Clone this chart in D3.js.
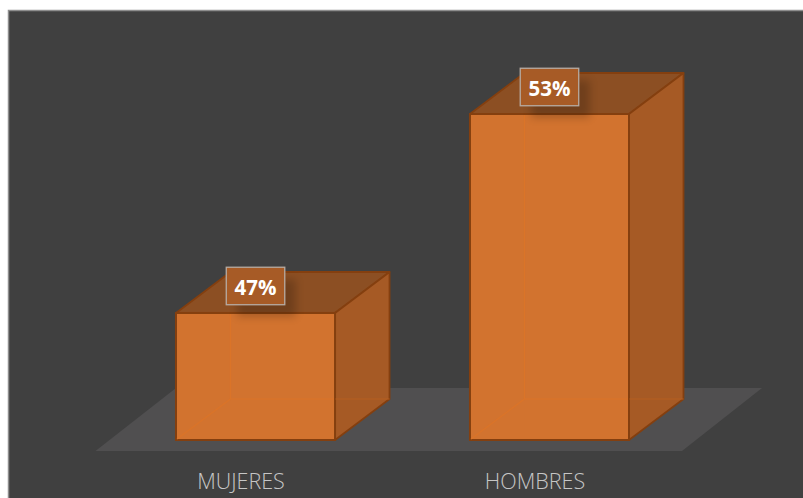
<!DOCTYPE html>
<html>
<head>
<meta charset="utf-8">
<script src="https://cdn.jsdelivr.net/npm/d3@7/dist/d3.min.js"></script>
<style>
html,body{margin:0;padding:0;background:#fff;}
svg{display:block;}
text{font-family:"Open Sans",sans-serif;}
</style>
</head>
<body>
<svg id="chart" width="803" height="498"></svg>
<script>
// Share of respondents by sex, drawn as 3D columns on a floor
const categories = ["MUJERES", "HOMBRES"];
const shares = [47, 53];
const labels = ["47%", "53%"];

const W = 803, H = 498;
const depthX = 54.5, depthY = 41;
const svg = d3.select("#chart");

const x = d3.scaleBand().domain(categories).range([176, 629]).paddingInner(0.459).paddingOuter(0);
const y = d3.scaleLinear().domain([43.17, 53]).range([440, 114]);
const base = y.range()[0];

const defs = svg.append("defs");
const blur = defs.append("filter").attr("id", "labelShadow")
  .attr("x", "-40%").attr("y", "-40%").attr("width", "180%").attr("height", "180%");
blur.append("feGaussianBlur").attr("stdDeviation", 4);

// Panel
svg.append("rect").attr("x", 8.5).attr("y", 10.5).attr("width", W).attr("height", H)
  .attr("fill", "#404040").attr("stroke", "#8e8e8e").attr("stroke-width", 1.5);

// Floor plane
const floorPts = [[95.5, 451], [682, 451], [762, 388], [176, 388]];
svg.append("polygon").attr("points", floorPts.join(" ")).attr("fill", "#504f50");

const poly = (pts) => pts.map(p => p.join(",")).join(" ");
const edge = "#843f0f";

const rows = categories.map((c, i) => ({c, v: shares[i], label: labels[i]}));

const bars = svg.selectAll("g.bar").data(rows).enter().append("g").attr("class", "bar");

bars.each(function(d) {
  const g = d3.select(this);
  const x0 = x(d.c), x1 = x0 + x.bandwidth(), t = y(d.v);

  // Top and side faces
  g.append("polygon")
    .attr("points", poly([[x0, t], [x1, t], [x1 + depthX, t - depthY], [x0 + depthX, t - depthY]]))
    .attr("fill", "#8c4f23").attr("stroke", edge).attr("stroke-width", 1.8).attr("stroke-linejoin", "round");
  g.append("polygon")
    .attr("points", poly([[x1, t], [x1 + depthX, t - depthY], [x1 + depthX, base - depthY], [x1, base]]))
    .attr("fill", "#a65a25").attr("stroke", edge).attr("stroke-width", 1.8).attr("stroke-linejoin", "round");

  // Front face
  g.append("rect").attr("x", x0).attr("y", t).attr("width", x.bandwidth()).attr("height", base - t)
    .attr("fill", "#d2732f").attr("stroke", edge).attr("stroke-width", 2);

  // Rear edges showing through the translucent front
  const inner = g.append("g").attr("fill", "none").attr("stroke", "#db7428").attr("stroke-width", 1.1);
  inner.append("line").attr("x1", x0 + 1).attr("y1", base - 1).attr("x2", x0 + depthX).attr("y2", base - depthY);
  inner.append("line").attr("x1", x0 + depthX).attr("y1", t + 1).attr("x2", x0 + depthX).attr("y2", base - depthY);
  inner.append("line").attr("x1", x0 + depthX).attr("y1", base - depthY).attr("x2", x1 - 1).attr("y2", base - depthY);
  g.append("line").attr("x1", x1 + 0.5).attr("y1", base - depthY).attr("x2", x1 + depthX).attr("y2", base - depthY)
    .attr("stroke", "#b55f20").attr("stroke-width", 1.1);
});

// Value callouts
const boxW = 58.5, boxH = 37.5;
const callouts = svg.selectAll("g.callout").data(rows).enter().append("g").attr("class", "callout")
  .attr("transform", d => `translate(${x(d.c) + x.bandwidth() / 2},${y(d.v) - 27})`);

callouts.append("rect").attr("x", -boxW / 2 + 11).attr("y", -boxH / 2 + 12)
  .attr("width", boxW).attr("height", boxH)
  .attr("fill", "#000").attr("opacity", 0.2).attr("filter", "url(#labelShadow)");
callouts.append("rect").attr("x", -boxW / 2).attr("y", -boxH / 2).attr("width", boxW).attr("height", boxH)
  .attr("fill", "#a75b26").attr("stroke", "#b7aca3").attr("stroke-width", 1.3);
callouts.append("text").attr("text-anchor", "middle").attr("dy", "0.42em")
  .attr("font-size", 20.5).attr("font-weight", 700).attr("fill", "#fff").text(d => d.label);

// Category labels
svg.selectAll("text.cat").data(categories).enter().append("text").attr("class", "cat")
  .attr("x", d => x(d) + x.bandwidth() / 2 - 14.5)
  .attr("y", 489).attr("text-anchor", "middle")
  .attr("font-size", 21.5).attr("font-weight", 300).attr("fill", "#c6c6c6").text(d => d);
</script>
</body>
</html>
